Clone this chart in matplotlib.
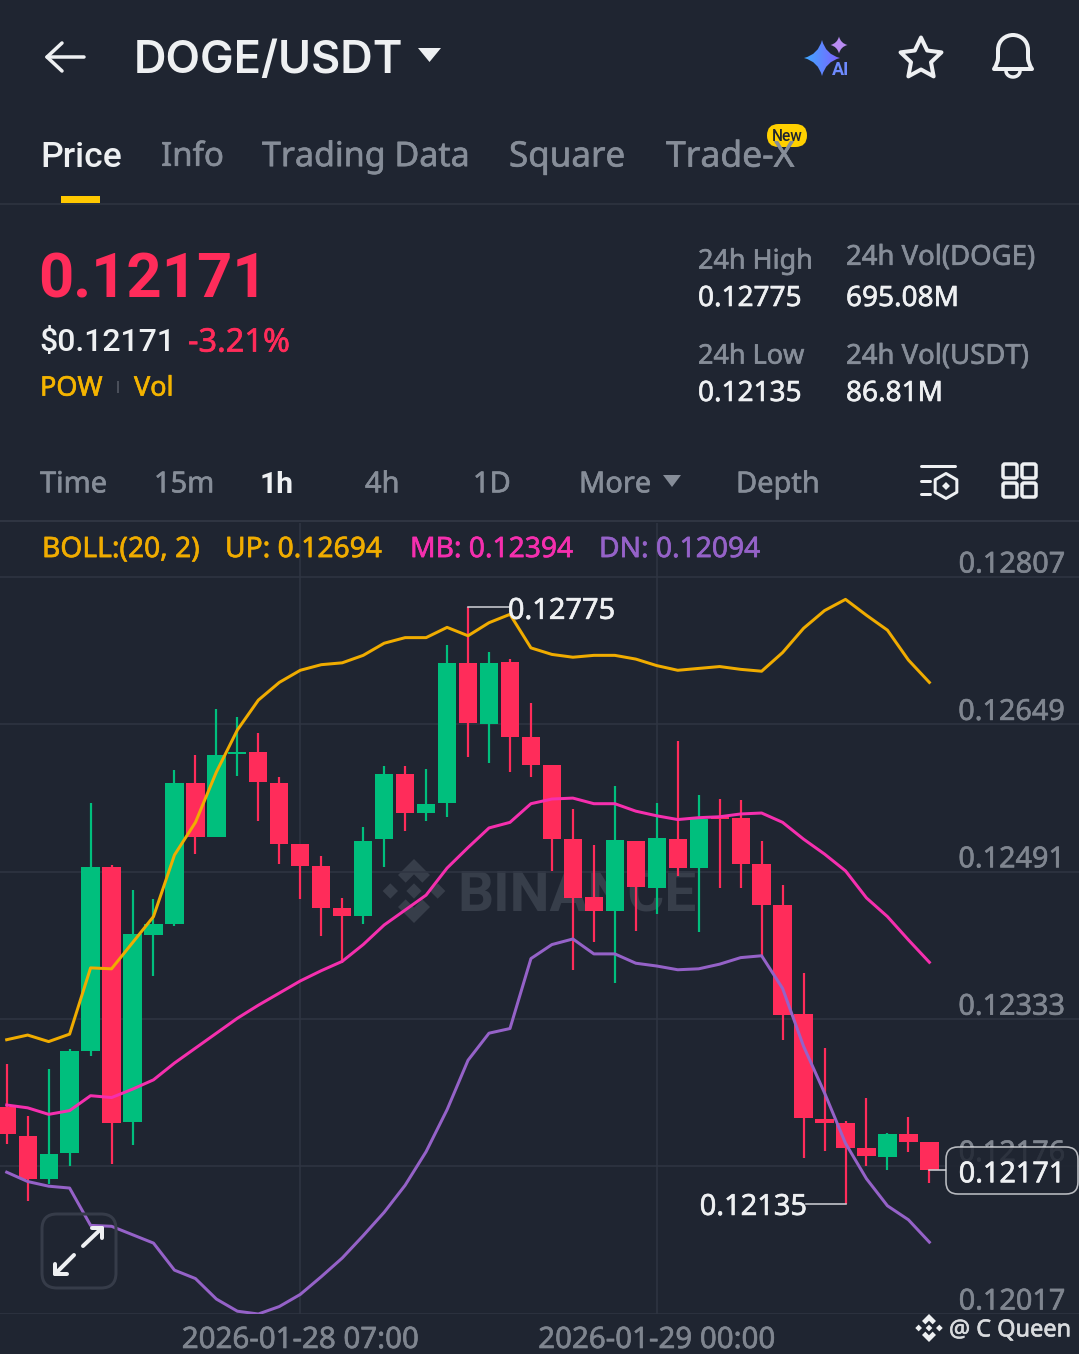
import matplotlib
matplotlib.use("Agg")
import matplotlib.pyplot as plt
import numpy as np
from matplotlib.patches import FancyBboxPatch, Polygon, PathPatch, Rectangle
from matplotlib.path import Path
from matplotlib.patheffects import withStroke

# 1h candles, oldest first
opens = [0.12239, 0.12208, 0.12162, 0.12190, 0.12299, 0.12496, 0.12223, 0.12423, 0.12435, 0.12586,
         0.12528, 0.12617, 0.12619, 0.12586, 0.12521, 0.12497, 0.12452, 0.12444, 0.12526, 0.12596,
         0.12554, 0.12565, 0.12715, 0.12649, 0.12716, 0.12636, 0.12606, 0.12526, 0.12464, 0.12449,
         0.12524, 0.12474, 0.12526, 0.12495, 0.12551, 0.12549, 0.12499, 0.12455, 0.12339, 0.12226,
         0.12222, 0.12195, 0.12185, 0.12210, 0.12201]
closes = [0.12210, 0.12162, 0.12189, 0.12299, 0.12496, 0.12222, 0.12424, 0.12435, 0.12586, 0.12528,
          0.12616, 0.12619, 0.12587, 0.12521, 0.12497, 0.12452, 0.12444, 0.12524, 0.12596, 0.12554,
          0.12564, 0.12715, 0.12651, 0.12715, 0.12636, 0.12606, 0.12526, 0.12463, 0.12449, 0.12525,
          0.12475, 0.12527, 0.12495, 0.12548, 0.12548, 0.12499, 0.12455, 0.12338, 0.12227, 0.12222,
          0.12195, 0.12186, 0.12210, 0.12201, 0.12171]
highs = [0.12285, 0.12229, 0.12280, 0.12301, 0.12565, 0.12498, 0.12471, 0.12462, 0.12600, 0.12616,
         0.12665, 0.12657, 0.12640, 0.12593, 0.12521, 0.12508, 0.12463, 0.12539, 0.12604, 0.12604,
         0.12601, 0.12734, 0.12775, 0.12727, 0.12719, 0.12672, 0.12606, 0.12558, 0.12520, 0.12583,
         0.12524, 0.12565, 0.12631, 0.12573, 0.12569, 0.12568, 0.12524, 0.12477, 0.12383, 0.12302,
         0.12224, 0.12248, 0.12211, 0.12228, 0.12201]
lows = [0.12199, 0.12138, 0.12156, 0.12176, 0.12294, 0.12178, 0.12198, 0.12379, 0.12433, 0.12510,
        0.12528, 0.12594, 0.12545, 0.12499, 0.12462, 0.12422, 0.12393, 0.12435, 0.12496, 0.12535,
        0.12545, 0.12550, 0.12614, 0.12608, 0.12598, 0.12593, 0.12492, 0.12386, 0.12416, 0.12372,
        0.12428, 0.12446, 0.12487, 0.12427, 0.12474, 0.12474, 0.12401, 0.12311, 0.12184, 0.12192,
        0.12135, 0.12176, 0.12171, 0.12191, 0.12157]

boll_up = [0.12311, 0.12316, 0.12309, 0.12317, 0.12388, 0.12387, 0.12415, 0.12443, 0.12509, 0.12544,
           0.12598, 0.12643, 0.12675, 0.12694, 0.12707, 0.12713, 0.12715, 0.12723, 0.12736, 0.12742,
           0.12742, 0.12753, 0.12744, 0.12758, 0.12767, 0.12731, 0.12724, 0.12721, 0.12723, 0.12723,
           0.12719, 0.12712, 0.12707, 0.12709, 0.12711, 0.12708, 0.12706, 0.12726, 0.12752, 0.12771,
           0.12783, 0.12766, 0.12750, 0.12718, 0.12694]
boll_mb = [0.12241, 0.12238, 0.12231, 0.12235, 0.12251, 0.12249, 0.12258, 0.12268, 0.12286, 0.12302,
           0.12318, 0.12334, 0.12348, 0.12361, 0.12374, 0.12385, 0.12395, 0.12413, 0.12434, 0.12450,
           0.12466, 0.12495, 0.12517, 0.12538, 0.12544, 0.12564, 0.12569, 0.12570, 0.12564, 0.12564,
           0.12556, 0.12551, 0.12547, 0.12549, 0.12550, 0.12553, 0.12554, 0.12544, 0.12526, 0.12510,
           0.12492, 0.12463, 0.12443, 0.12418, 0.12394]
boll_dn = [0.12169, 0.12159, 0.12154, 0.12152, 0.12112, 0.12111, 0.12102, 0.12093, 0.12064, 0.12055,
           0.12033, 0.12020, 0.12017, 0.12025, 0.12038, 0.12057, 0.12077, 0.12101, 0.12126, 0.12155,
           0.12191, 0.12236, 0.12289, 0.12318, 0.12323, 0.12398, 0.12413, 0.12419, 0.12403, 0.12403,
           0.12393, 0.12390, 0.12386, 0.12387, 0.12392, 0.12399, 0.12401, 0.12366, 0.12304, 0.12254,
           0.12200, 0.12162, 0.12133, 0.12118, 0.12094]

price_ticks = [0.12807, 0.12649, 0.12491, 0.12333, 0.12176, 0.12017]
time_ticks = [14, 31]
time_labels = ["2026-01-28 07:00", "2026-01-29 00:00"]

BG = "#1F2531"
GREEN = "#00BF7D"
RED = "#FF2C5A"
GOLD = "#F0AC00"
PINK = "#F52FAE"
PURPLE = "#9562C8"
GRAY = "#868D98"
AXIS_GRAY = "#7F858F"
WHITE = "#EEF0F2"
GRID = "#2F3542"

plt.rcParams["font.family"] = ["Noto Sans", "DejaVu Sans"]

W, H = 1079, 1354
CAP = 0.357  # half the cap height, in em
fig = plt.figure(figsize=(W / 100, H / 100), dpi=100, facecolor=BG)


def px_axes(zorder):
    # axes in screen pixels, y going down
    a = fig.add_axes([0, 0, 1, 1], zorder=zorder)
    a.set_xlim(0, W)
    a.set_ylim(H, 0)
    a.axis("off")
    return a


def pt(px):
    return px * 0.72


def heavier(color):
    # the regular cut is a little thin next to the app font
    return [withStroke(linewidth=0.45, foreground=color)]


def logo(a, cx, cy, r, color):
    # binance diamond mark
    s = 0.24 * r
    for dx, dy in [(0, 0), (-0.74 * r, 0), (0.74 * r, 0)]:
        a.add_patch(Polygon([(cx + dx, cy + dy - s), (cx + dx + s, cy + dy),
                             (cx + dx, cy + dy + s), (cx + dx - s, cy + dy)], color=color, lw=0))
    for sign in (-1, 1):
        a.add_patch(Polygon([(cx, cy + sign * r), (cx + 0.5 * r, cy + sign * 0.5 * r),
                             (cx + 0.26 * r, cy + sign * 0.26 * r), (cx, cy + sign * 0.52 * r),
                             (cx - 0.26 * r, cy + sign * 0.26 * r), (cx - 0.5 * r, cy + sign * 0.5 * r)],
                            color=color, lw=0))


def sparkle(cx, cy, r, f=0.2):
    # four point star with bulged sides
    k = f * r
    return Path([(cx, cy - r), (cx + k, cy - k), (cx + r, cy), (cx + k, cy + k), (cx, cy + r),
                 (cx - k, cy + k), (cx - r, cy), (cx - k, cy - k), (cx, cy - r)],
                [Path.MOVETO] + [Path.CURVE3, Path.CURVE3] * 4)


# watermark sits under the candles
back = px_axes(0)
logo(back, 414, 891, 32, "#373E4A")
back.text(457, 891 + CAP * 56.5, "BINANCE", fontsize=pt(56.5), fontweight="bold", family="Roboto",
          color="#373E4A", va="baseline")

# chart, pixel rows 523..1314 and columns 0..1079
x_step = 20.97
x0_px = 6.7
y_per_px = 1.0719e-5
chart_top, chart_bottom = 523, 1314
ax = fig.add_axes([0, 1 - chart_bottom / H, 1, (chart_bottom - chart_top) / H], zorder=1)
ax.patch.set_alpha(0)
ax.set_xlim(-x0_px / x_step, (W - x0_px) / x_step)
ax.set_ylim(0.12017, 0.12017 + (chart_bottom - chart_top) * y_per_px)

idx = np.arange(len(opens))
o, c, h, l = map(np.array, (opens, closes, highs, lows))
colors = np.where(c >= o, GREEN, RED)

ax.vlines(idx, l, h, colors=colors, lw=pt(2.2), zorder=3)
ax.bar(idx, np.maximum(np.abs(c - o), 1.5e-5), bottom=np.minimum(o, c), width=0.87, color=colors, zorder=3)

ax.plot(idx, boll_up, color=GOLD, lw=pt(3), zorder=4, solid_joinstyle="round")
ax.plot(idx, boll_mb, color=PINK, lw=pt(3), zorder=4, solid_joinstyle="round")
ax.plot(idx, boll_dn, color=PURPLE, lw=pt(3), zorder=4, solid_joinstyle="round")

for side in ax.spines.values():
    side.set_visible(False)
ax.set_yticks(price_ticks)
ax.set_yticklabels([])
ax.set_xticks(time_ticks)
ax.set_xticklabels(time_labels, fontsize=pt(29.5), color=AXIS_GRAY, path_effects=heavier(AXIS_GRAY))
ax.tick_params(length=0, axis="both")
ax.tick_params(axis="x", pad=pt(12))
ax.grid(color=GRID, lw=pt(1.6), zorder=0)
ax.set_axisbelow(True)

for t in price_ticks:
    ax.annotate(f"{t:.5f}", (1, t), xycoords=ax.get_yaxis_transform(), xytext=(-14, 4.5),
                textcoords="offset pixels", ha="right", va="baseline", fontsize=pt(28.8), color=AXIS_GRAY,
                path_effects=heavier(AXIS_GRAY))

# high / low callouts
ax.plot([22, 24], [max(highs), max(highs)], color="#C9CCD1", lw=pt(1.6), zorder=5)
ax.annotate("0.12775", (23.9, max(highs)), xytext=(0, -12), textcoords="offset pixels",
            fontsize=pt(29), color=WHITE, va="baseline", zorder=6, path_effects=heavier(WHITE))
ax.plot([38.1, 40], [min(lows), min(lows)], color="#C9CCD1", lw=pt(1.6), zorder=5)
ax.annotate("0.12135", (38.15, min(lows)), xytext=(0, -11), textcoords="offset pixels",
            fontsize=pt(29), color=WHITE, va="baseline", ha="right", zorder=6, path_effects=heavier(WHITE))
ax.plot([44, 44.8], [closes[-1], closes[-1]], color="#C9CCD1", lw=pt(1.6), zorder=5)

# everything around the chart
ui = px_axes(2)


def label(x, y, s, size, color=GRAY, weight="normal", ha="left", family="Roboto"):
    # Noto Sans has only the regular cut here, heavier text goes to another family
    if weight == "normal":
        ui.text(x, y + CAP * size, s, fontsize=pt(size), color=color, ha=ha, va="baseline",
                path_effects=heavier(color))
    else:
        ui.text(x, y + CAP * size, s, fontsize=pt(size), color=color, fontweight=weight, family=family,
                ha=ha, va="baseline")


def stroke(pts, color=WHITE, lw=3.5):
    xs, ys = zip(*pts)
    ui.plot(xs, ys, color=color, lw=pt(lw), solid_capstyle="round", solid_joinstyle="round")


# header
stroke([(47, 57), (84, 57)])
stroke([(62, 43), (47, 57), (62, 71)])
label(134, 57, "DOGE/USDT", 45, WHITE, "semibold", family="Inter")
ui.add_patch(Polygon([(418, 48), (441, 48), (429.5, 62)], color=WHITE, lw=0))

# AI sparkle
big = sparkle(822, 58, 18)
grad = np.linspace(0, 1, 50).reshape(1, -1)
cmap_ai = matplotlib.colors.LinearSegmentedColormap.from_list("ai", ["#3FA9FF", "#7E62FF"])
img = ui.imshow(grad, extent=(804, 840, 76, 40), aspect="auto", cmap=cmap_ai, zorder=2)
img.set_clip_path(PathPatch(big, transform=ui.transData))
ui.add_patch(PathPatch(sparkle(839, 45, 8.5), facecolor="#B98CF2", lw=0))
label(841, 69, "AI", 18, "#6E8BFF", "bold", "center")
ui.set_xlim(0, W)
ui.set_ylim(H, 0)

# star and bell
ang = np.pi / 2 + np.arange(10) * np.pi / 5
rad = np.where(np.arange(10) % 2 == 0, 21.5, 10.5)
ui.add_patch(Polygon(np.c_[921 + rad * np.cos(ang), 59 - rad * np.sin(ang)], closed=True, fill=False,
                     edgecolor=WHITE, lw=pt(4), joinstyle="round"))
bell = Path([(994, 69), (998, 63), (998, 58), (998, 50), (998, 40), (1006, 35), (1013, 35),
             (1020, 35), (1028, 40), (1028, 50), (1028, 58), (1028, 63), (1032, 69), (994, 69)],
            [Path.MOVETO, Path.CURVE3, Path.CURVE3, Path.LINETO, Path.CURVE4, Path.CURVE4, Path.CURVE4,
             Path.CURVE4, Path.CURVE4, Path.CURVE4, Path.LINETO, Path.CURVE3, Path.CURVE3, Path.CLOSEPOLY])
ui.add_patch(PathPatch(bell, fill=False, edgecolor=WHITE, lw=pt(4), joinstyle="round"))
theta = np.linspace(0, np.pi, 20)
stroke(list(zip(1013 + 7 * np.cos(theta), 71 + 6 * np.sin(theta))), lw=3.5)

# tabs
label(40, 154, "Price", 35.5, WHITE, "medium")
label(161, 154, "Info", 33)
label(262, 154, "Trading Data", 34)
label(509, 154, "Square", 35)
label(666, 154, "Trade-X", 35.5)
ui.add_patch(FancyBboxPatch((767, 124), 40, 23, boxstyle="round,pad=0,rounding_size=11.5",
                            facecolor="#FFD000", lw=0))
label(787, 135.5, "New", 15.5, "#1F2531", "medium", "center")
ui.add_patch(Rectangle((61, 196), 39, 7, color="#FFC800", lw=0))
ui.plot([0, W], [203.5, 203.5], color=GRID, lw=pt(1.5))

# price block
label(38, 276, "0.12171", 61.5, RED, "bold")
label(39, 340, "$0.12171", 32, WHITE, "medium")
label(188, 340, "-3.21%", 32.5, RED)
label(40, 386, "POW", 27, "#F4B400")
ui.plot([118, 118], [382, 392], color="#4A4F5A", lw=pt(2))
label(134, 386, "Vol", 27, "#F4B400")

label(698, 259, "24h High", 27)
label(698, 296, "0.12775", 28, WHITE)
label(698, 354, "24h Low", 27)
label(698, 391, "0.12135", 28, WHITE)
label(846, 255, "24h Vol(DOGE)", 27.5)
label(846, 296, "695.08M", 28, WHITE)
label(846, 354, "24h Vol(USDT)", 27.5)
label(846, 391, "86.81M", 28, WHITE)

# interval bar
label(40, 482, "Time", 29)
label(154, 482, "15m", 29)
label(260, 482, "1h", 30, WHITE, "bold")
label(365, 482, "4h", 29)
label(473, 482, "1D", 29)
label(579, 482, "More", 29)
ui.add_patch(Polygon([(663, 475), (681, 475), (672, 487)], color=GRAY, lw=0))
label(736, 482, "Depth", 29)

stroke([(921, 466), (955, 466)], lw=3)
stroke([(921, 481), (930, 481)], lw=3)
stroke([(921, 494), (930, 494)], lw=3)
ang = np.pi / 2 + np.arange(6) * np.pi / 3
ui.add_patch(Polygon(np.c_[946 + 12.5 * np.cos(ang), 486 - 12.5 * np.sin(ang)], fill=False,
                     edgecolor=WHITE, lw=pt(3), joinstyle="round"))
ui.add_patch(Polygon([(946, 482), (950, 486), (946, 490), (942, 486)], color=WHITE, lw=0))
for gx in (1003, 1022):
    for gy in (464, 483):
        ui.add_patch(FancyBboxPatch((gx, gy), 14, 14, boxstyle="round,pad=0,rounding_size=2", fill=False,
                                    edgecolor=WHITE, lw=pt(3.5)))
ui.plot([0, W], [521, 521], color=GRID, lw=pt(2))

# bollinger legend
label(42, 547, "BOLL:(20, 2)", 28.2, GOLD)
label(225, 547, "UP: 0.12694", 28.2, GOLD)
label(410, 547, "MB: 0.12394", 28.2, PINK)
label(599, 547, "DN: 0.12094", 28.2, PURPLE)

# last price box
ui.add_patch(FancyBboxPatch((946, 1147), 132, 47, boxstyle="round,pad=0,rounding_size=12",
                            facecolor=BG, edgecolor="#D5D7DB", lw=pt(1.6), alpha=0.85))
label(1065, 1172, "0.12171", 28.8, WHITE, ha="right")

# expand button
ui.add_patch(FancyBboxPatch((42, 1214), 74, 74, boxstyle="round,pad=0,rounding_size=15", fill=False,
                            edgecolor="#363C49", lw=pt(3)))
stroke([(83, 1246), (102, 1228)], lw=4)
stroke([(92, 1228), (102, 1228), (102, 1238)], lw=4)
stroke([(74, 1255), (55, 1274)], lw=4)
stroke([(55, 1264), (55, 1274), (67, 1274)], lw=4)

# account watermark
logo(ui, 929, 1328, 14, WHITE)
label(949, 1328, "@ C Queen", 23.5, "#D9DBDE")

fig.savefig("out.png", dpi=100, facecolor=BG)
